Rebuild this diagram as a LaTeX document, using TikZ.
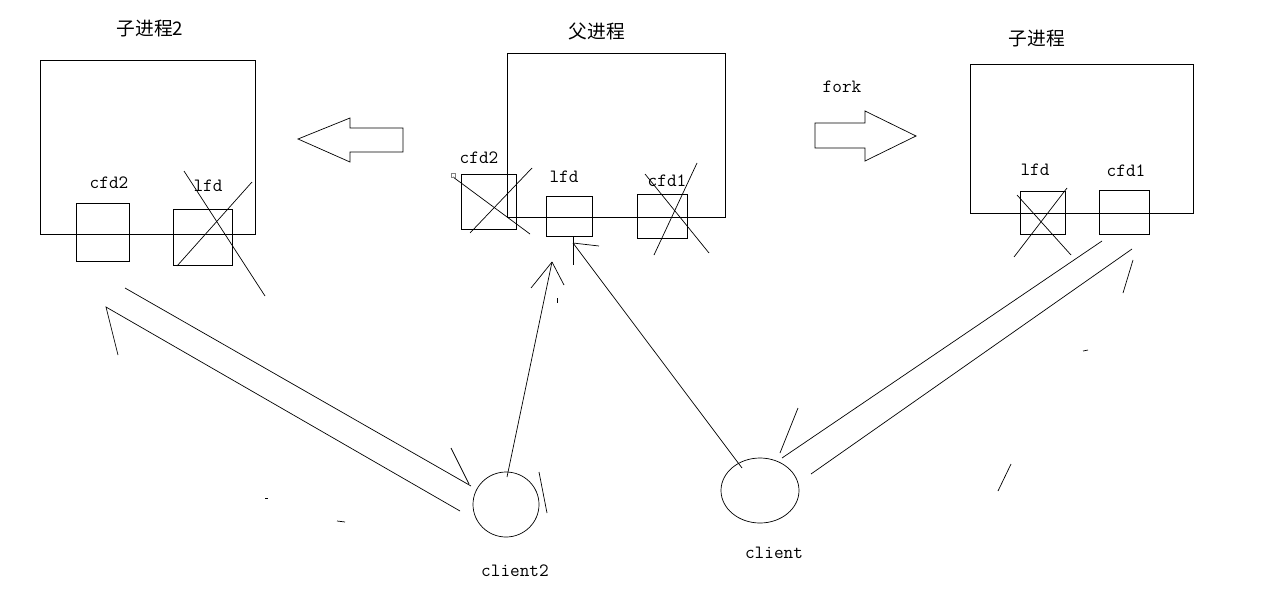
\documentclass[tikz,border=0pt]{standalone}
\usepackage{fontspec}
\newfontfamily\cjkfont{Noto Sans CJK SC}
\usetikzlibrary{shapes.geometric}

\tikzset{
  procbox/.style={draw, line width=0.8pt, inner sep=0pt},
  fdbox/.style={draw, line width=0.8pt, inner sep=0pt},
  hand/.style={line width=0.6pt},
  fdlabel/.style={font=\fontsize{16pt}{18pt}\ttfamily, inner sep=0pt},
  proctitle/.style={font=\fontsize{16pt}{18pt}\cjkfont, inner sep=0pt},
  clientnode/.style={draw, ellipse, line width=0.6pt, inner sep=0pt}
}

\begin{document}
\begin{tikzpicture}[x=0.03cm, y=-0.03cm]
    \useasboundingbox (0,0) rectangle (1267,612);

    % Processos
    \node[procbox, minimum width=6.45cm, minimum height=5.22cm] (child2) at (147.5,147) {};
    \node[procbox, minimum width=6.54cm, minimum height=4.92cm] (parent) at (616,135) {};
    \node[procbox, minimum width=6.69cm, minimum height=4.47cm] (child1) at (1081.5,138.5) {};
    \node[proctitle] (t2) at (150,29) {子进程2};
    \node[proctitle] (tp) at (597,31) {父进程};
    \node[proctitle] (t1) at (1037,39) {子进程};

    % Descritores
    \node[fdbox, minimum width=1.59cm, minimum height=1.74cm] (cfdA) at (102.5,232) {};
    \node[fdbox, minimum width=1.77cm, minimum height=1.68cm] (lfdA) at (202.5,237) {};
    \node[fdbox, minimum width=1.65cm, minimum height=1.65cm] (cfdB) at (488.5,201.5) {};
    \node[fdbox, minimum width=1.38cm, minimum height=1.2cm] (lfdB) at (569,216) {};
    \node[fdbox, minimum width=1.5cm, minimum height=1.32cm] (cfdC) at (662,216) {};
    \node[fdbox, minimum width=1.35cm, minimum height=1.29cm] (lfdD) at (1042.5,212.5) {};
    \node[fdbox, minimum width=1.5cm, minimum height=1.32cm] (cfdD) at (1124,212) {};

    \node[fdlabel] (lcfdA) at (109,183) {cfd2};
    \node[fdlabel] (llfdA) at (208,186) {lfd};
    \node[fdlabel] (lcfdB) at (479,158) {cfd2};
    \node[fdlabel] (llfdB) at (564,177) {lfd};
    \node[fdlabel] (lcfdC) at (667,181) {cfd1};
    \node[fdlabel] (llfdD) at (1035,170) {lfd};
    \node[fdlabel] (lcfdD) at (1126,171) {cfd1};
    \node[fdlabel] (fork) at (842,87) {fork};

    % Fechados (X)
    \draw[hand] (184,171) -- (265,296);
    \draw[hand] (252,182) -- (177,266);
    \draw[hand] (453,177) -- (530,234);
    \draw[hand] (532,168) -- (470,233);
    \draw[line width=0.4pt, gray] (451,173) rectangle (455,177);
    \draw[hand] (645,174) -- (709,253);
    \draw[hand] (697,163) -- (654,255);
    \draw[hand] (1017,195) -- (1071,255);
    \draw[hand] (1067,188) -- (1014,257);

    % Setas de fork
    \draw[hand] (298,139) -- (350,118) -- (350,128) -- (403,128) -- (403,152) -- (350,152) -- (350,162) -- cycle;
    \draw[hand] (815,123) -- (865,123) -- (865,111) -- (916,136) -- (865,161) -- (865,148) -- (815,148) -- cycle;

    % Clientes
    \node[clientnode, minimum width=1.98cm, minimum height=1.95cm] (client2) at (506,504.5) {};
    \node[clientnode, minimum width=2.34cm, minimum height=1.95cm] (client1) at (760,490.5) {};
    \node[fdlabel] (lclient2) at (515,571) {client2};
    \node[fdlabel] (lclient1) at (774,553) {client};

    % Conexoes ao lfd do pai
    \coordinate (tipB) at (573,243);
    \coordinate (tipC) at (552,262);
    \draw[hand] (742,468) -- (tipB);
    \draw[hand] (573,236) -- (573,265);
    \draw[hand] (tipB) -- (599,246);
    \draw[hand] (507,477) -- (tipC);
    \draw[hand] (tipC) -- (531,288);
    \draw[hand] (tipC) -- (564,285);
    \draw[hand] (557,298) -- (557,303);

    % client2 <-> cfd2 (filho 2)
    \draw[hand] (125,288) -- (471,486);
    \draw[hand] (451,448) -- (469,484);
    \draw[hand] (460,511) -- (106,307) -- (118,355);
    \draw[hand] (539,472) -- (547,513);

    % client <-> cfd1 (filho)
    \draw[hand] (1102,241) -- (782,458);
    \draw[hand] (798,408) -- (780,453);
    \draw[hand] (811,474) -- (1132,249);
    \draw[hand] (1133,260) -- (1123,293);

    % Rabiscos
    \draw[hand] (1011,464) -- (998,491);
    \draw[hand] (1083,351) -- (1088,350);
    \draw[hand] (265,498) -- (268,498);
    \draw[hand] (337,521) -- (345,522);
\end{tikzpicture}
\end{document}
